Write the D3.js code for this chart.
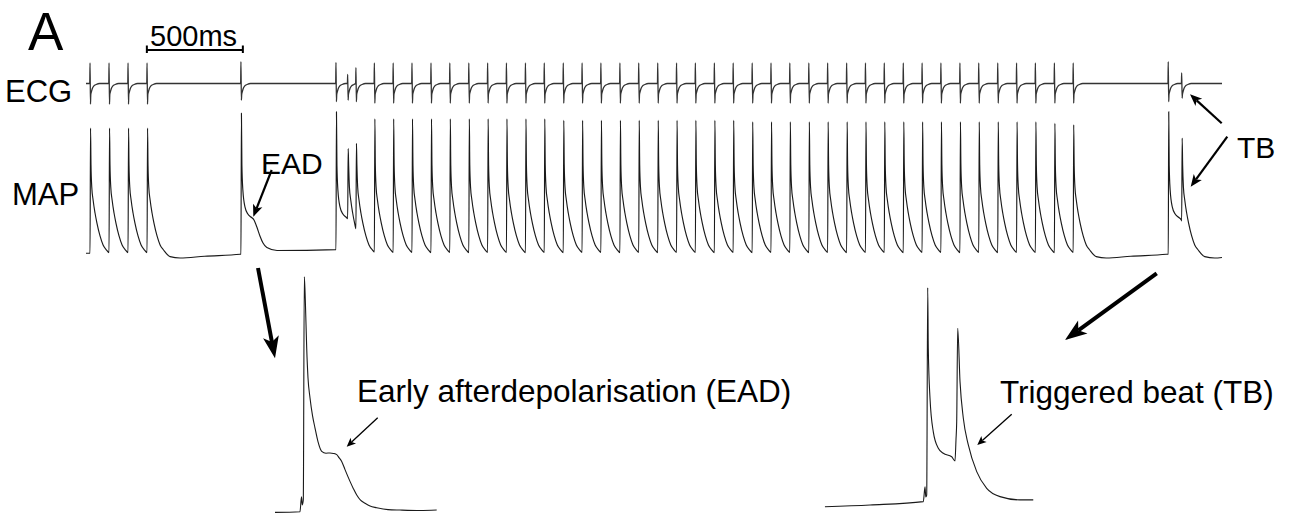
<!DOCTYPE html>
<html>
<head>
<meta charset="utf-8">
<script src="https://cdn.jsdelivr.net/npm/d3@7"></script>
<style>
  body { margin: 0; background: #fff; }
  text { font-family: "Liberation Sans", Arial, sans-serif; fill: #000; }
</style>
</head>
<body>
<div id="chart"></div>
<script>
// beat onsets in ms from start of trace (500 ms scale bar)
const beatTimes = [21, 120, 219, 318, 807, 1302, 1363, 1406,
  1502, 1600, 1698, 1797, 1895, 1994, 2092, 2190, 2289, 2387,
  2486, 2584, 2682, 2781, 2879, 2978, 3076, 3174, 3273, 3371,
  3470, 3568, 3666, 3765, 3863, 3962, 4060, 4158, 4257, 4355,
  4453, 4552, 4650, 4749, 4847, 4945, 5044, 5142,
  5637, 5707];
const traceEnd = 5917;

// MAP peak height of each beat (0 = rest, 100 = scale top)
const mapPeaks = [87.8, 87.8, 87.8, 87.8, 97.8, 98.8, 74, 77.5,
  94, 94, 94, 94, 94, 94, 94, 94, 94, 94,
  93, 93, 93, 93, 93, 93, 93, 93, 93, 93,
  92, 92, 92, 92, 92, 92, 92, 92, 92, 92,
  92, 92, 92, 92, 92, 92, 91, 90,
  98.8, 81];
// repolarisation shape of each beat: n = normal, e = with EAD hump
const beatShapes = ['n', 'n', 'n', 'n', 'e', 'e', 'n', 'n',
  'n', 'n', 'n', 'n', 'n', 'n', 'n', 'n', 'n', 'n',
  'n', 'n', 'n', 'n', 'n', 'n', 'n', 'n', 'n', 'n',
  'n', 'n', 'n', 'n', 'n', 'n', 'n', 'n', 'n', 'n',
  'n', 'n', 'n', 'n', 'n', 'n', 'n', 'n',
  'e', 'n'];

// ECG deflection of each beat, up and down (mV-ish)
const ecgUp = [1.03, 1.03, 1.03, 1.03, 1.09, 1.06, 0.46, 0.79,
  1.03, 1.03, 1.03, 1.03, 1.03, 1.03, 1.03, 1.03, 1.03, 1.03,
  1.03, 1.03, 1.03, 1.03, 1.03, 1.03, 1.03, 1.03, 1.03, 1.03,
  1.03, 1.03, 1.03, 1.03, 1.03, 1.03, 1.03, 1.03, 1.03, 1.03,
  1.03, 1.03, 1.03, 1.03, 1.03, 1.03, 1.03, 1.03,
  1.09, 0.53];
const ecgDown = [1.03, 1.03, 1.03, 1.03, 0.83, 0.91, 0.83, 0.91,
  0.98, 0.98, 0.98, 0.98, 0.98, 0.98, 0.98, 0.98, 0.98, 0.98,
  0.98, 0.98, 0.98, 0.98, 0.98, 0.98, 0.98, 0.98, 0.98, 0.98,
  0.98, 0.98, 0.98, 0.98, 0.98, 0.98, 0.98, 0.98, 0.98, 0.98,
  0.98, 0.98, 0.98, 0.98, 0.98, 0.98, 0.98, 0.98,
  0.91, 0.73];

// decay after the peak, [ms after onset, level]
const normalDecay = [[5, 62.8], [9, 48], [16, 39.2], [26, 30.4], [36, 23.6], [52, 14.9],
  [68, 8.8], [86, 5.4], [120, 0.9], [172, 0], [300, 1.2], [485, 2.5], [600, 4]];
const eadDecay = [[5, 62.8], [10, 45.9], [21, 34.5], [36, 29.7], [52, 27.7], [68, 25.7],
  [83, 20.9], [99, 14.9], [115, 10.1], [135, 7.1], [188, 5.1], [495, 5.7], [600, 5.7]];
// ECG complex after the onset, [ms, level]; spike heights come from ecgUp/ecgDown
const ecgRecovery = [[4, -0.55], [7, -0.42], [12, -0.25], [20, -0.12], [32, -0.05], [50, 0]];

// enlarged beats, [ms from upstroke, % of peak]
const eadBeatT = [-59, -6.9, -3.75, -2.1, 0, 2.1, 4.2, 7.1, 9.8, 14, 19.2, 24.4, 30.6, 38.3,
  47.3, 55.6, 62.9, 69.6, 74.4, 80, 86.9, 97.3, 104.6, 111.3, 119.2, 128.5, 139, 152.9,
  176.5, 201.5, 243, 277.9];
const eadBeatV = [-0.3, 0, 6.3, 2.9, 5, 100, 90, 69.5, 56.9, 48.4, 40.9, 35.6, 29.8, 25.7,
  24.9, 25, 24.8, 24.3, 23, 21.4, 17.9, 12.9, 9.7, 7.1, 4.9, 3.6, 2.4, 1.7,
  0.9, 0.7, 0.5, 0.7];
const tbBeatT = [-212, -118, -7.1, -3.5, -1.9, 0, 2.1, 3.3, 6.9, 13.75, 24.2, 34.6, 52.1, 59,
  61, 62.5, 64.6, 69.4, 76.3, 86.7, 104.2, 125, 152.7, 194.4, 222];
const tbBeatV = [0, 0.8, 2.3, 9.1, 4.4, 5.3, 100, 72.3, 49.5, 34.2, 26.7, 24.4, 22.8, 20.9,
  30.5, 38.8, 81.5, 57.1, 40.4, 28.2, 16, 8.4, 4.6, 3.1, 3.1];

const width = 1293, height = 517;
const svg = d3.select('#chart').append('svg')
  .attr('width', width)
  .attr('height', height);

const x = d3.scaleLinear().domain([0, traceEnd]).range([86, 1222]);
const yMap = d3.scaleLinear().domain([0, 100]).range([258, 110]);
const yEcg = d3.scaleLinear().domain([-1, 1]).range([103.5, 63.5]);

// MAP trace
function mapSeries() {
  let pts = [[0, 3.2]];
  beatTimes.forEach((t0, i) => {
    let tNext = i < beatTimes.length - 1 ? beatTimes[i + 1] : traceEnd;
    let last = pts[pts.length - 1];
    if (last[0] < t0) pts.push([t0, last[1]]);
    let prev = [2.6, mapPeaks[i]];
    pts.push([t0 + prev[0], prev[1]]);
    let decay = beatShapes[i] == 'e' ? eadDecay : normalDecay;
    for (let [dt, v] of decay) {
      if (dt < tNext - t0) {
        pts.push([t0 + dt, v]);
        prev = [dt, v];
      } else {
        let f = (tNext - t0 - prev[0]) / (dt - prev[0]);
        pts.push([tNext, prev[1] + f * (v - prev[1])]);
        break;
      }
    }
  });
  return pts;
}

function ecgSeries() {
  let pts = [[0, 0]];
  beatTimes.forEach((t0, i) => {
    let tNext = i < beatTimes.length - 1 ? beatTimes[i + 1] : traceEnd + 10;
    pts.push([t0 - 1.5, 0]);
    pts.push([t0, ecgUp[i]]);
    pts.push([t0 + 2.4, -ecgDown[i]]);
    ecgRecovery.forEach(([dt, v]) => {
      if (t0 + dt < tNext - 1.5) pts.push([t0 + dt, v]);
    });
  });
  pts.push([traceEnd, 0]);
  return pts;
}

let mapLine = d3.line().x(d => x(d[0])).y(d => yMap(d[1])).curve(d3.curveMonotoneX);
let ecgLine = d3.line().x(d => x(d[0])).y(d => yEcg(d[1])).curve(d3.curveMonotoneX);

svg.append('path')
  .attr('d', ecgLine(ecgSeries()))
  .attr('fill', 'none')
  .attr('stroke', '#333')
  .attr('stroke-width', 1.3);

svg.append('path')
  .attr('d', mapLine(mapSeries()))
  .attr('fill', 'none')
  .attr('stroke', '#1a1a1a')
  .attr('stroke-width', 1.15);

// insets
function inset(ts, vs, x0, y0, yPerUnit) {
  let xs = d3.scaleLinear().domain([0, 100]).range([x0, x0 + 48]);
  let ys = d3.scaleLinear().domain([0, 100]).range([y0, y0 - 100 * yPerUnit]);
  let line = d3.line().x(d => xs(d[0])).y(d => ys(d[1])).curve(d3.curveMonotoneX);
  svg.append('path')
    .attr('d', line(d3.zip(ts, vs)))
    .attr('fill', 'none')
    .attr('stroke', '#1a1a1a')
    .attr('stroke-width', 1.1);
}
inset(eadBeatT, eadBeatV, 303.3, 511.7, 2.35);
inset(tbBeatT, tbBeatV, 926.7, 506.7, 2.19);

// arrows
function arrow(x1, y1, x2, y2, sw, len, half) {
  let dx = x2 - x1, dy = y2 - y1;
  let d = Math.hypot(dx, dy);
  let ux = dx / d, uy = dy / d;
  let bx = x2 - ux * len, by = y2 - uy * len;
  let nx = x2 - ux * len * 0.75, ny = y2 - uy * len * 0.75;
  svg.append('line')
    .attr('x1', x1).attr('y1', y1)
    .attr('x2', nx).attr('y2', ny)
    .attr('stroke', '#000')
    .attr('stroke-width', sw);
  svg.append('path')
    .attr('d', `M${x2},${y2}L${bx - uy * half},${by + ux * half}L${nx},${ny}L${bx + uy * half},${by - ux * half}Z`)
    .attr('fill', '#000');
}
arrow(271.7, 170, 253.3, 216.7, 2.2, 12, 5);
arrow(1221.7, 123.3, 1190, 94.3, 2.2, 12, 5);
arrow(1227.3, 136.7, 1190.7, 186.7, 2.2, 12, 5);
arrow(258, 268, 275, 358.3, 4, 22, 8);
arrow(1156.7, 273.3, 1065, 340, 4, 22, 8);
arrow(377.7, 417.7, 346.7, 446.7, 1.3, 9, 4);
arrow(1011.7, 414.3, 977.3, 445, 1.3, 9, 4);

// 500 ms scale bar
let bar = svg.append('g').attr('stroke', '#000').attr('stroke-width', 2);
bar.append('line').attr('x1', x(317)).attr('x2', x(817)).attr('y1', 50).attr('y2', 50);
bar.append('line').attr('x1', x(317)).attr('x2', x(317)).attr('y1', 45.5).attr('y2', 53);
bar.append('line').attr('x1', x(817)).attr('x2', x(817)).attr('y1', 45.5).attr('y2', 53);

// labels
function label(txt, lx, ly, size) {
  svg.append('text').attr('x', lx).attr('y', ly).attr('font-size', size).text(txt);
}
label('A', 28, 50, 53);
label('500ms', 150, 46, 29);
label('ECG', 5, 102, 31);
label('MAP', 12, 205, 31);
label('EAD', 261, 174, 30);
label('TB', 1237, 158, 30);
label('Early afterdepolarisation (EAD)', 357, 402, 31.5);
label('Triggered beat (TB)', 1000, 403, 31.5);
</script>
</body>
</html>
